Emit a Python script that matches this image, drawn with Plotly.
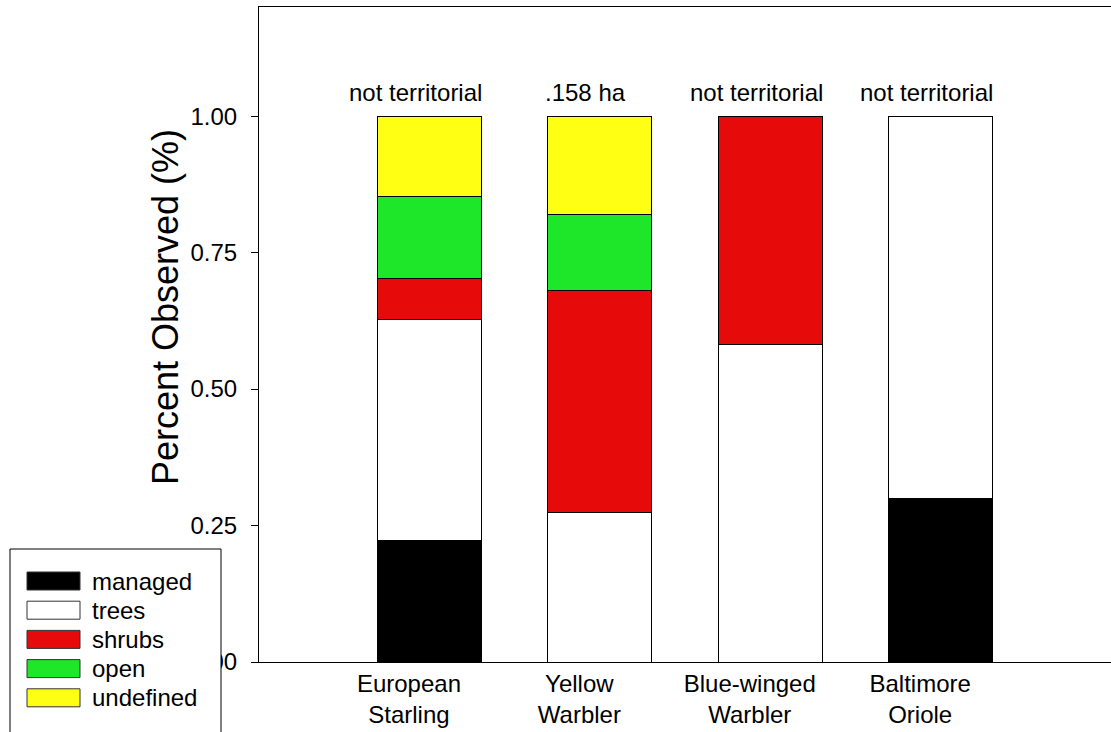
import plotly.graph_objects as go

species = ["European<br>Starling", "Yellow<br>Warbler", "Blue-winged<br>Warbler", "Baltimore<br>Oriole"]
notes = ["not territorial", ".158 ha", "not territorial", "not territorial"]
managed = [0.223, 0.0, 0.0, 0.300]
trees = [0.405, 0.273, 0.582, 0.700]
shrubs = [0.075, 0.408, 0.418, 0.0]
open_ = [0.150, 0.138, 0.0, 0.0]
undefined = [0.147, 0.181, 0.0, 0.0]
tick_vals = [0.0, 0.25, 0.5, 0.75, 1.0]
tick_text = ["0.00", "0.25", "0.50", "0.75", "1.00"]

series = [("managed", managed, "#000000"), ("trees", trees, "#ffffff"),
          ("shrubs", shrubs, "#e60a0a"), ("open", open_, "#1ee628"),
          ("undefined", undefined, "#ffff14")]

xs = list(range(len(species)))
label_pos = [x - 0.12 for x in xs]
fig = go.Figure()
for name, vals, col in series:
    fig.add_trace(go.Bar(x=xs, y=vals, name=name, width=0.61, showlegend=False,
                         marker=dict(color=col, line=dict(color="#000000", width=1))))

for i, t in enumerate(notes):
    fig.add_annotation(x=xs[i], y=1.0, text=t, showarrow=False, yanchor="bottom",
                       yshift=8, xshift=-14, font=dict(size=24, color="black"))

fig.add_annotation(xref="paper", yref="paper", x=-0.109, y=0.542, text="Percent Observed (%)",
                   textangle=-90, showarrow=False, xanchor="center", yanchor="middle",
                   font=dict(size=36, color="black"))

# legend box drawn at the reference's pixel geometry (converted to paper coords)
PL, PW, PB, PH = 259, 852, 662, 655
def px(x):
    return (x - PL) / PW
def py(y):
    return (PB - y) / PH

fig.add_shape(type="rect", xref="paper", yref="paper", x0=px(10), x1=px(221),
              y0=py(760), y1=py(549), fillcolor="white", line=dict(color="black", width=1),
              layer="above")
row0, rowstep = 581, 29.2
for i, (name, vals, col) in enumerate(series):
    cy = row0 + i * rowstep
    fig.add_shape(type="rect", xref="paper", yref="paper", x0=px(27), x1=px(80),
                  y0=py(cy + 9), y1=py(cy - 9), fillcolor=col,
                  line=dict(color="#333333", width=1), layer="above")
    fig.add_annotation(xref="paper", yref="paper", x=px(90), y=py(cy), text=name,
                       showarrow=False, xanchor="left", yanchor="middle",
                       font=dict(size=24, color="black"))

fig.update_layout(
    barmode="stack", width=1111, height=732,
    margin=dict(l=259, r=0, t=7, b=70),
    plot_bgcolor="white", paper_bgcolor="white",
    font=dict(family="Liberation Sans, Arial, sans-serif", size=24, color="black"),
    showlegend=False,
    xaxis=dict(range=[-1.0, 4.0], tickvals=label_pos, ticktext=species, showline=True,
               linecolor="black", linewidth=1, mirror=True, ticks="", showgrid=False,
               zeroline=False, tickfont=dict(size=24)),
    yaxis=dict(range=[0, 1.2], tickvals=tick_vals, ticktext=tick_text, showline=True,
               linecolor="black", linewidth=1, ticks="outside", ticklen=7, tickcolor="black",
               ticklabelstandoff=9,
               showgrid=False, zeroline=False, tickfont=dict(size=24)),
)
fig.write_html("out.html", config={"displayModeBar": False},
               post_script="document.body.style.margin='0';")
